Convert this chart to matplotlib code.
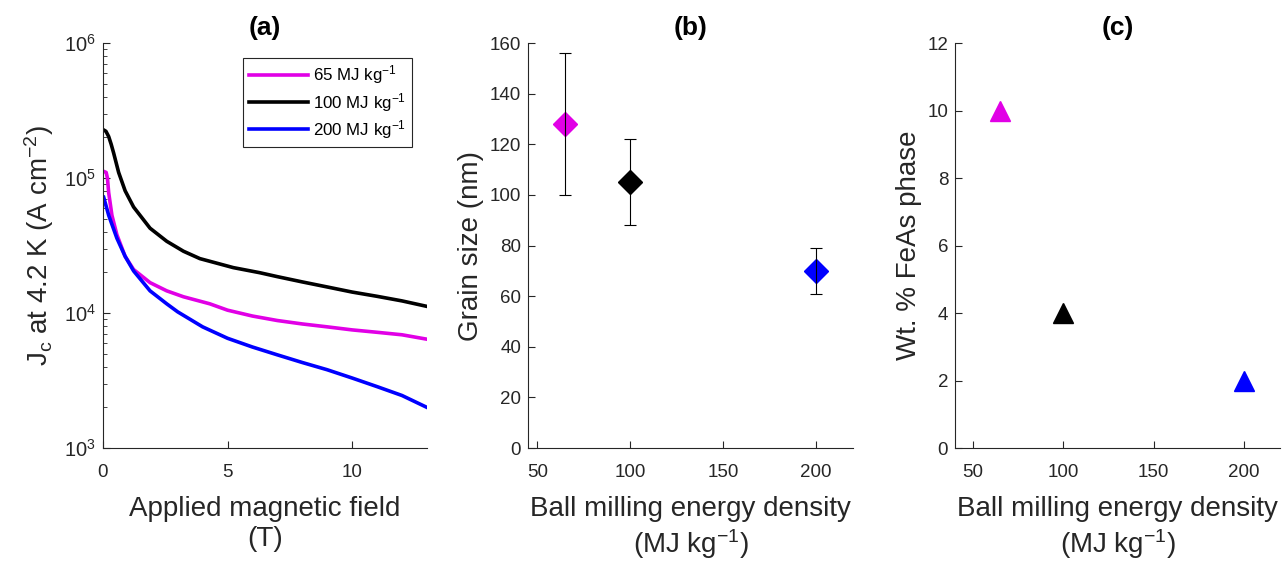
import numpy as np
import matplotlib
matplotlib.use('Agg')
import matplotlib.pyplot as plt

plt.rcParams['font.family'] = ['Liberation Sans', 'DejaVu Sans']
plt.rcParams['mathtext.fontset'] = 'custom'
plt.rcParams['mathtext.rm'] = 'Liberation Sans'
plt.rcParams['mathtext.it'] = 'Liberation Sans:italic'
plt.rcParams['mathtext.bf'] = 'Liberation Sans:bold'

# (a) Jc vs field
field_65 = [0.03, 0.13, 0.18, 0.23, 0.36, 0.56, 0.89, 1.23, 1.89, 2.56, 3.23, 4.29,
            5, 6, 7, 8, 9, 10, 11, 12, 13]
jc_65 = [1.12e5, 1.1e5, 1.0e5, 7.8e4, 5.3e4, 3.8e4, 2.63e4, 2.1e4, 1.68e4, 1.46e4,
         1.32e4, 1.17e4, 1.05e4, 9.5e3, 8.8e3, 8.3e3, 7.9e3, 7.5e3, 7.2e3, 6.9e3, 6.4e3]
field_100 = [0.03, 0.12, 0.23, 0.33, 0.43, 0.63, 0.89, 1.23, 1.89, 2.56, 3.23, 3.89,
             5.23, 6.29, 7, 8, 9, 10, 11, 12, 13]
jc_100 = [2.27e5, 2.22e5, 2.03e5, 1.78e5, 1.53e5, 1.1e5, 8.05e4, 6.1e4, 4.25e4, 3.4e4,
          2.87e4, 2.53e4, 2.17e4, 1.99e4, 1.86e4, 1.7e4, 1.56e4, 1.43e4, 1.33e4,
          1.23e4, 1.12e4]
field_200 = [0.03, 0.23, 0.56, 0.89, 1.23, 1.89, 2.56, 3, 4, 5, 6, 7, 8, 9, 10,
             11, 12, 13]
jc_200 = [7.2e4, 5.3e4, 3.58e4, 2.63e4, 2.05e4, 1.46e4, 1.17e4, 1.02e4, 7.9e3,
          6.5e3, 5.6e3, 4.9e3, 4.3e3, 3.8e3, 3.3e3, 2.85e3, 2.45e3, 2.0e3]

# (b) grain size, (c) FeAs phase
energy = [65, 100, 200]
grain = [128, 105, 70]
grain_lo = [100, 88, 61]
grain_hi = [156, 122, 79]
feas = [10, 4, 2]

labels = ['65 MJ kg$^{-1}$', '100 MJ kg$^{-1}$', '200 MJ kg$^{-1}$']
colors = ['#e100e6', 'k', 'b']

axc = '#262626'
lab_fs = 20
xlab = 'Ball milling energy density\n(MJ kg$^{-1}$)'

fig = plt.figure(figsize=(12.82, 5.62), dpi=100)
ax1 = fig.add_axes([0.0803, 0.2028, 0.2527, 0.7206])
ax2 = fig.add_axes([0.4119, 0.2028, 0.2535, 0.7206])
ax3 = fig.add_axes([0.745, 0.2028, 0.2535, 0.7206])

for ax in (ax1, ax2, ax3):
    for s in ('top', 'right'):
        ax.spines[s].set_visible(False)
    for s in ('left', 'bottom'):
        ax.spines[s].set_color(axc)
        ax.spines[s].set_linewidth(0.8)
    ax.tick_params(which='both', direction='in', colors=axc, labelsize=13.5,
                   labelcolor=axc)
    ax.tick_params(which='major', length=5)
    ax.tick_params(which='minor', length=3)
    ax.tick_params(axis='x', pad=11.5)
    ax.tick_params(axis='y', pad=5)

# panel a
for fx, jy, c, lab in zip([field_65, field_100, field_200],
                         [jc_65, jc_100, jc_200], colors, labels):
    ax1.plot(fx, jy, color=c, lw=2.6, label=lab)
ax1.set_yscale('log')
ax1.set_ylim(1e3, 1e6)
ax1.set_xlim(0, 13)
ax1.set_xticks([0, 5, 10])
ax1.tick_params(axis='y', labelsize=14.5)
ax1.set_ylabel('J$_\\mathrm{c}$ at 4.2 K (A cm$^{-2}$)', fontsize=lab_fs, color=axc,
               labelpad=6)
ax1.set_xlabel('Applied magnetic field\n(T)', fontsize=lab_fs, color=axc,
               linespacing=1.2, labelpad=11)
ax1.set_title('(a)', fontsize=19, fontweight='bold', pad=6)
leg = ax1.legend(loc='upper right', bbox_to_anchor=(0.98, 0.985), fontsize=12.2,
                 fancybox=False, edgecolor=axc, framealpha=1, handlelength=3.5,
                 borderpad=0.35, labelspacing=0.25, handletextpad=0.3)
leg.get_frame().set_linewidth(0.8)

# panel b
for x, y, lo, hi, c in zip(energy, grain, grain_lo, grain_hi, colors):
    ax2.plot(x, y, 'D', color=c, ms=12, mec=c, zorder=2)
    ax2.errorbar(x, y, yerr=[[y - lo], [hi - y]], fmt='none', ecolor='k',
                 elinewidth=0.8, capsize=4, capthick=0.8, zorder=3)
ax2.set_xlim(45, 220)
ax2.set_ylim(0, 160)
ax2.set_xticks([50, 100, 150, 200])
ax2.set_yticks(np.arange(0, 161, 20))
ax2.set_ylabel('Grain size (nm)', fontsize=lab_fs, color=axc)
ax2.set_xlabel(xlab, fontsize=lab_fs, color=axc, linespacing=1.2, labelpad=11)
ax2.set_title('(b)', fontsize=19, fontweight='bold', pad=6)

# panel c
for x, y, c in zip(energy, feas, colors):
    ax3.plot(x, y, '^', color=c, ms=15, mec=c)
ax3.set_xlim(40, 220)
ax3.set_ylim(0, 12)
ax3.set_xticks([50, 100, 150, 200])
ax3.set_yticks(np.arange(0, 13, 2))
ax3.set_ylabel('Wt. % FeAs phase', fontsize=lab_fs, color=axc)
ax3.set_xlabel(xlab, fontsize=lab_fs, color=axc, linespacing=1.2, labelpad=11)
ax3.set_title('(c)', fontsize=19, fontweight='bold', pad=6)

fig.savefig('out.png', dpi=100)
